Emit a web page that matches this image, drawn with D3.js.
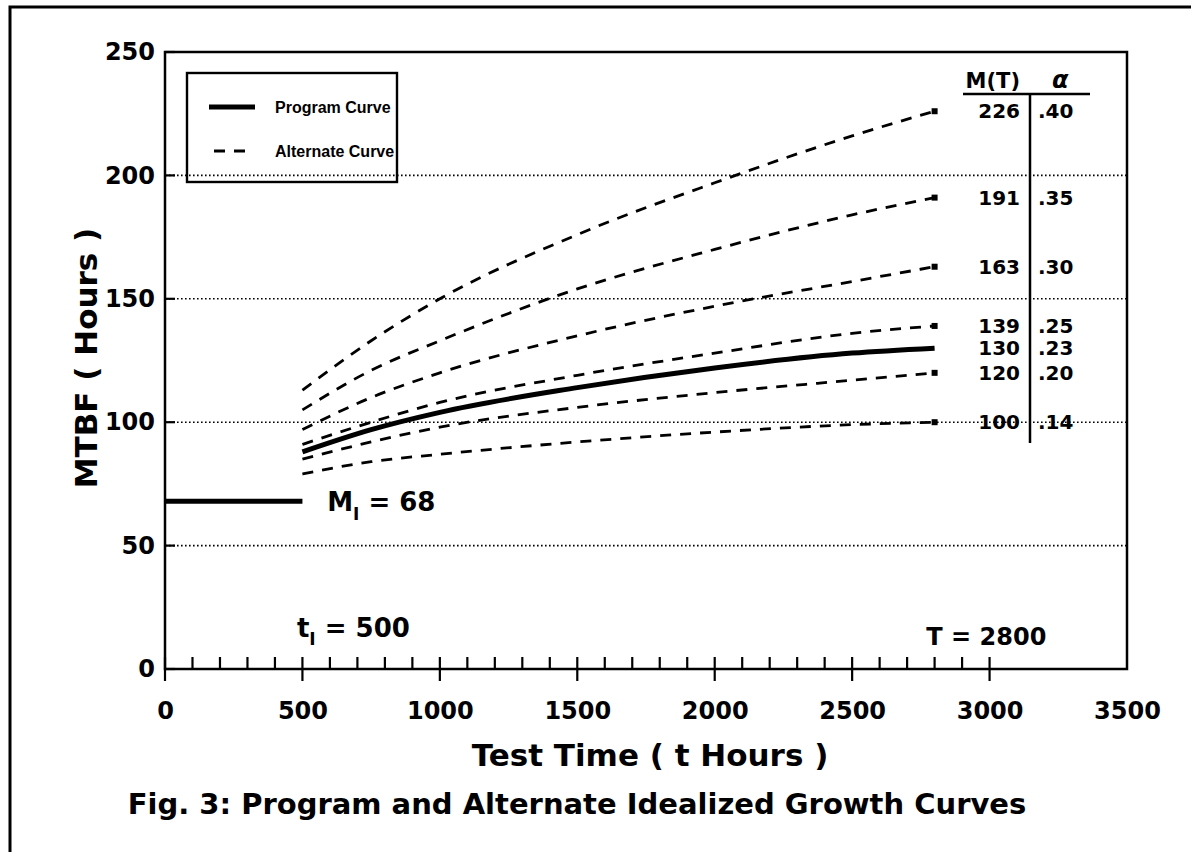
<!DOCTYPE html>
<html>
<head>
<meta charset="utf-8">
<script src="https://cdn.jsdelivr.net/npm/d3@7"></script>
<style>
  body { margin: 0; background: #fff; }
  svg text { font-family: 'DejaVu Sans', sans-serif; font-weight: bold; fill: #000; }
  svg text.legend { font-family: 'Liberation Sans', Arial, sans-serif; }
</style>
</head>
<body>
<svg id="graph1" width="1191" height="852"></svg>
<script>
// values
var tHours = [500, 750, 1000, 1500, 2000, 2500, 2800];
var alt40 = [113, 133, 150, 176, 197, 216, 226];
var alt35 = [105, 121, 133, 154, 170, 184, 191];
var alt30 = [97, 110, 120, 135, 147, 157, 163];
var alt25 = [91, 100, 108, 119, 128, 136, 139];
var program23 = [88, 97, 104, 114, 122, 128, 130];
var alt20 = [85, 92, 98, 106, 112, 117, 120];
var alt14 = [79, 84, 87, 92, 96, 99, 100];

var initialT = [0, 500];
var initialM = [68, 68];

var mtLabels = ['226', '191', '163', '139', '130', '120', '100'];
var alphaLabels = ['.40', '.35', '.30', '.25', '.23', '.20', '.14'];
var mtValues = [226, 191, 163, 139, 130, 120, 100];

var xTicks = [0, 500, 1000, 1500, 2000, 2500, 3000, 3500];
var yTicks = [0, 50, 100, 150, 200, 250];
var gridValues = [50, 100, 150, 200];

var xs = d3.scaleLinear().domain([0, 3500]).range([165, 1127]);
var ys = d3.scaleLinear().domain([0, 250]).range([669, 52]);

var svg = d3.select('#graph1');

// outer page border (top + left only)
svg.append('path')
    .attr('d', 'M10,852 L10,7 L1191,7')
    .attr('fill', 'none')
    .attr('stroke', '#000')
    .attr('stroke-width', 3);

// dotted grid
svg.append('g').selectAll('line').data(gridValues)
    .enter().append('line')
    .attr('x1', xs(0)).attr('x2', xs(3500))
    .attr('y1', function (d) { return ys(d); })
    .attr('y2', function (d) { return ys(d); })
    .attr('stroke', '#000')
    .attr('stroke-width', 1.6)
    .attr('stroke-dasharray', '1.6,2.4');

// plot frame
svg.append('rect')
    .attr('x', xs(0)).attr('y', ys(250))
    .attr('width', xs(3500) - xs(0))
    .attr('height', ys(0) - ys(250))
    .attr('fill', 'none')
    .attr('stroke', '#000')
    .attr('stroke-width', 2.5);

// x ticks: minor every 100 up to 3000, major every 500 cross the axis
var minorT = d3.range(0, 3001, 100);
svg.append('g').selectAll('line').data(minorT)
    .enter().append('line')
    .attr('x1', function (d) { return xs(d); })
    .attr('x2', function (d) { return xs(d); })
    .attr('y1', ys(0) - 12)
    .attr('y2', function (d) { return d % 500 == 0 ? ys(0) + 12 : ys(0); })
    .attr('stroke', '#000')
    .attr('stroke-width', 2.2);

var xAxis = svg.append('g')
    .attr('transform', 'translate(0,' + ys(0) + ')')
    .call(d3.axisBottom(xs).tickValues(xTicks).tickSize(0).tickPadding(33).tickFormat(d3.format('d')));
xAxis.select('.domain').remove();
xAxis.selectAll('text').style('font-size', '24px').attr('font-family', null);

// y ticks
svg.append('g').selectAll('line').data(yTicks)
    .enter().append('line')
    .attr('x1', xs(0)).attr('x2', xs(0) + 10)
    .attr('y1', function (d) { return ys(d); })
    .attr('y2', function (d) { return ys(d); })
    .attr('stroke', '#000')
    .attr('stroke-width', 2.2);

var yAxis = svg.append('g')
    .attr('transform', 'translate(' + xs(0) + ',0)')
    .call(d3.axisLeft(ys).tickValues(yTicks).tickSize(0).tickPadding(10));
yAxis.select('.domain').remove();
yAxis.selectAll('text').style('font-size', '24px').attr('font-family', null);

// curves
var line = d3.line()
    .x(function (d) { return xs(d[0]); })
    .y(function (d) { return ys(d[1]); })
    .curve(d3.curveMonotoneX);

function pairs(vals) {
    return tHours.map(function (t, i) { return [t, vals[i]]; });
}

var altSeries = [alt40, alt35, alt30, alt25, alt20, alt14];

svg.append('g').selectAll('path').data(altSeries)
    .enter().append('path')
    .attr('d', function (d) { return line(pairs(d)); })
    .attr('fill', 'none')
    .attr('stroke', '#000')
    .attr('stroke-width', 2.8)
    .attr('stroke-dasharray', '11,9');

// end markers
svg.append('g').selectAll('rect').data(altSeries)
    .enter().append('rect')
    .attr('x', function (d) { return xs(tHours[tHours.length - 1]) - 3; })
    .attr('y', function (d) { return ys(d[d.length - 1]) - 3; })
    .attr('width', 6).attr('height', 6)
    .attr('fill', '#000');

svg.append('path')
    .attr('d', line(pairs(program23)))
    .attr('fill', 'none')
    .attr('stroke', '#000')
    .attr('stroke-width', 5);

svg.append('path')
    .attr('d', d3.line()
        .x(function (d) { return xs(d); })
        .y(function (d, i) { return ys(initialM[i]); })(initialT))
    .attr('fill', 'none')
    .attr('stroke', '#000')
    .attr('stroke-width', 5);

// annotations
var mi = svg.append('text')
    .attr('x', xs(590)).attr('y', ys(68) + 10)
    .style('font-size', '26px');
mi.append('tspan').text('M');
mi.append('tspan').attr('dy', 9).style('font-size', '17px').text('I');
mi.append('tspan').attr('dy', -9).text(' = 68');

var t1 = svg.append('text')
    .attr('x', xs(480)).attr('y', 637)
    .style('font-size', '26px');
t1.append('tspan').text('t');
t1.append('tspan').attr('dy', 8).style('font-size', '17px').text('I');
t1.append('tspan').attr('dy', -8).text(' = 500');

svg.append('text')
    .attr('x', xs(2770)).attr('y', 645)
    .style('font-size', '24px')
    .text('T = 2800');

// M(T) / alpha table
var tableX = 1030;
svg.append('text').attr('x', tableX - 10).attr('y', 88)
    .attr('text-anchor', 'end').style('font-size', '21px').text('M(T)');
svg.append('text').attr('x', 1052).attr('y', 88)
    .style('font-size', '24px').style('font-style', 'italic').text('α');
svg.append('line')
    .attr('x1', 963).attr('x2', 1090).attr('y1', 94).attr('y2', 94)
    .attr('stroke', '#000').attr('stroke-width', 2.5);
svg.append('line')
    .attr('x1', tableX).attr('x2', tableX).attr('y1', 94).attr('y2', 443)
    .attr('stroke', '#000').attr('stroke-width', 2.5);

svg.append('g').selectAll('text').data(mtLabels)
    .enter().append('text')
    .attr('x', tableX - 10)
    .attr('y', function (d, i) { return ys(mtValues[i]); })
    .attr('dy', '0.36em')
    .attr('text-anchor', 'end')
    .style('font-size', '20px')
    .text(function (d) { return d; });

svg.append('g').selectAll('text').data(alphaLabels)
    .enter().append('text')
    .attr('x', tableX + 8)
    .attr('y', function (d, i) { return ys(mtValues[i]); })
    .attr('dy', '0.36em')
    .style('font-size', '20px')
    .text(function (d) { return d; });

// legend
svg.append('rect')
    .attr('x', 187).attr('y', 73).attr('width', 210).attr('height', 109)
    .attr('fill', 'none').attr('stroke', '#000').attr('stroke-width', 2.4);
svg.append('line')
    .attr('x1', 209).attr('x2', 255).attr('y1', 107).attr('y2', 107)
    .attr('stroke', '#000').attr('stroke-width', 5);
svg.append('line')
    .attr('x1', 214).attr('x2', 246).attr('y1', 151).attr('y2', 151)
    .attr('stroke', '#000').attr('stroke-width', 2.8)
    .attr('stroke-dasharray', '11,9');
svg.append('text').attr('class', 'legend').attr('x', 275).attr('y', 113)
    .style('font-size', '16px').text('Program Curve');
svg.append('text').attr('class', 'legend').attr('x', 275).attr('y', 157)
    .style('font-size', '16px').text('Alternate Curve');

// axis titles and caption
svg.append('text')
    .attr('x', 650).attr('y', 766)
    .attr('text-anchor', 'middle')
    .style('font-size', '31px')
    .text('Test Time ( t Hours )');

svg.append('text')
    .attr('transform', 'translate(97,358) rotate(-90)')
    .attr('text-anchor', 'middle')
    .style('font-size', '31px')
    .text('MTBF ( Hours )');

svg.append('text')
    .attr('x', 577).attr('y', 814)
    .attr('text-anchor', 'middle')
    .style('font-size', '29px')
    .text('Fig. 3: Program and Alternate Idealized Growth Curves');
</script>
</body>
</html>
